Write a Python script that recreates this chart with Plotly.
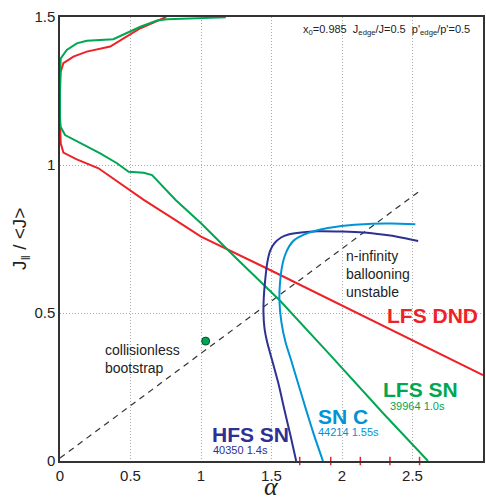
import plotly.graph_objects as go

# ---- data ----
red_alpha = [0.753, 0.570, 0.356, 0.19, 0.095, 0.024, 0.005, 0.0, 0.0, 0.005, 0.024, 0.119, 0.273, 0.594, 0.8, 1.0, 1.461, 2.0, 2.66, 3.0]
red_j = [1.5, 1.462, 1.400, 1.383, 1.366, 1.344, 1.315, 1.25, 1.15, 1.073, 1.042, 1.019, 0.989, 0.882, 0.82, 0.758, 0.652, 0.526, 0.37, 0.29]

green_alpha = [1.176, 0.76, 0.689, 0.57, 0.378, 0.19, 0.119, 0.048, 0.005, 0.0, 0.0, 0.004, 0.036, 0.285, 0.404, 0.487, 0.594, 0.653, 0.82, 1.0, 1.25, 1.556, 1.912, 2.3, 2.61]
green_j = [1.499, 1.492, 1.488, 1.467, 1.425, 1.42, 1.411, 1.389, 1.36, 1.3, 1.16, 1.129, 1.101, 1.039, 1.006, 0.977, 0.974, 0.966, 0.882, 0.803, 0.685, 0.544, 0.36, 0.157, 0.0]

snc_alpha = [1.865, 1.80, 1.746, 1.69, 1.639, 1.60, 1.57, 1.556, 1.56, 1.572, 1.592, 1.625, 1.663, 1.73, 1.806, 1.90, 1.996, 2.186, 2.35, 2.52]
snc_j = [0.0, 0.09, 0.172, 0.26, 0.341, 0.40, 0.47, 0.544, 0.60, 0.65, 0.69, 0.725, 0.747, 0.765, 0.777, 0.787, 0.794, 0.801, 0.802, 0.80]

hfs_alpha = [2.54, 2.40, 2.30, 2.15, 2.0, 1.83, 1.711, 1.62, 1.568, 1.52, 1.49, 1.47, 1.455, 1.445, 1.443, 1.45, 1.47, 1.504, 1.55, 1.592, 1.635, 1.675]
hfs_j = [0.743, 0.757, 0.764, 0.772, 0.775, 0.776, 0.772, 0.765, 0.755, 0.735, 0.71, 0.67, 0.61, 0.55, 0.50, 0.45, 0.40, 0.341, 0.26, 0.172, 0.085, 0.0]

bootstrap_alpha = [0.0, 2.55]
bootstrap_j = [0.01, 0.912]

dot_alpha = [1.033]
dot_j = [0.405]

red_tick_alpha = [1.70, 1.92, 2.13, 2.34, 2.55]

x_ticks = [0, 0.5, 1, 1.5, 2, 2.5, 3]
x_ticktext = ["0", "0.5", "1", "1.5", "2", "2.5", "3"]
y_ticks = [0, 0.5, 1, 1.5]
y_ticktext = ["0", "0.5", "1", "1.5"]

RED = "#ec2227"
GREEN = "#00a651"
NAVY = "#2e3192"
LBLUE = "#0094d6"
FONT = "Liberation Sans, Arial, sans-serif"

fig = go.Figure()
fig.add_trace(go.Scatter(x=bootstrap_alpha, y=bootstrap_j, mode="lines",
                         line=dict(color="#333333", width=1.2, dash="6px,5px")))
fig.add_trace(go.Scatter(x=red_alpha, y=red_j, mode="lines", line=dict(color=RED, width=2)))
fig.add_trace(go.Scatter(x=green_alpha, y=green_j, mode="lines", line=dict(color=GREEN, width=2)))
fig.add_trace(go.Scatter(x=hfs_alpha, y=hfs_j, mode="lines", line=dict(color=NAVY, width=2, shape="spline", smoothing=0.6)))
fig.add_trace(go.Scatter(x=snc_alpha, y=snc_j, mode="lines", line=dict(color=LBLUE, width=2, shape="spline", smoothing=0.6)))
fig.add_trace(go.Scatter(x=dot_alpha, y=dot_j, mode="markers",
                         marker=dict(color=GREEN, size=8, line=dict(color="#00532a", width=1))))
fig.add_trace(go.Scatter(x=red_tick_alpha, y=[0] * len(red_tick_alpha), mode="markers", cliponaxis=False,
                         marker=dict(symbol="line-ns", size=6, line=dict(color=RED, width=1.5))))

def ann(x, y, text, size, color, bold=False, xanchor="left", align="left"):
    if bold:
        text = "<b>" + text + "</b>"
    fig.add_annotation(x=x, y=y, text=text, showarrow=False, xanchor=xanchor, yanchor="middle",
                       align=align, font=dict(family=FONT, size=size, color=color))

nb = "\u00a0"
ann(2.92, 1.455, "x<sub>0</sub>=0.985" + nb * 2 + "J<sub>edge</sub>/J=0.5" + nb * 2 + "p'<sub>edge</sub>/p'=0.5",
    11, "#222222", xanchor="right")
ann(2.017, 0.632, "n-infinity<br>ballooning<br>unstable", 14, "#222222")
ann(0.306, 0.343, "collisionless<br>bootstrap", 14, "#222222")
ann(2.644, 0.493, "LFS DND", 21, RED, bold=True, xanchor="center")
ann(2.559, 0.24, "LFS SN", 21, GREEN, bold=True, xanchor="center")
ann(2.324, 0.186, "39964 1.0s", 11, GREEN)
ann(1.817, 0.15, "SN C", 21, LBLUE, bold=True)
ann(1.817, 0.098, "44214 1.55s", 11, LBLUE)
ann(1.062, 0.088, "HFS SN", 21, NAVY, bold=True)
ann(1.069, 0.037, "40350 1.4s", 11, NAVY)

# axis titles placed in paper coordinates
fig.add_annotation(xref="paper", yref="paper", x=0.5, y=-0.058, yanchor="middle", xanchor="center",
                   text="<i>α</i>", showarrow=False, borderpad=0,
                   font=dict(family="Liberation Serif, serif", size=26, color="#222222"))
fig.add_annotation(xref="paper", yref="paper", x=-0.092, y=0.5, xanchor="center", yanchor="middle",
                   text="J<sub>‖</sub> / &lt;J&gt;", showarrow=False, textangle=-90,
                   font=dict(family=FONT, size=19, color="#222222"))

axis_common = dict(showline=True, mirror=True, linecolor="#333333", linewidth=1.5,
                   showgrid=True, gridcolor="#aaaaaa", gridwidth=1, griddash="1px,2px",
                   zeroline=False, ticks="", automargin=False,
                   tickfont=dict(family=FONT, size=15, color="#222222"))

fig.update_xaxes(range=[0, 3], tickvals=x_ticks, ticktext=x_ticktext, **axis_common)
fig.update_yaxes(range=[0, 1.5], tickvals=y_ticks, ticktext=y_ticktext, **axis_common)

fig.update_layout(width=486, height=500, margin=dict(l=60, r=3, t=17, b=39),
                  paper_bgcolor="white", plot_bgcolor="white", showlegend=False)

fig.write_html("out.html")
